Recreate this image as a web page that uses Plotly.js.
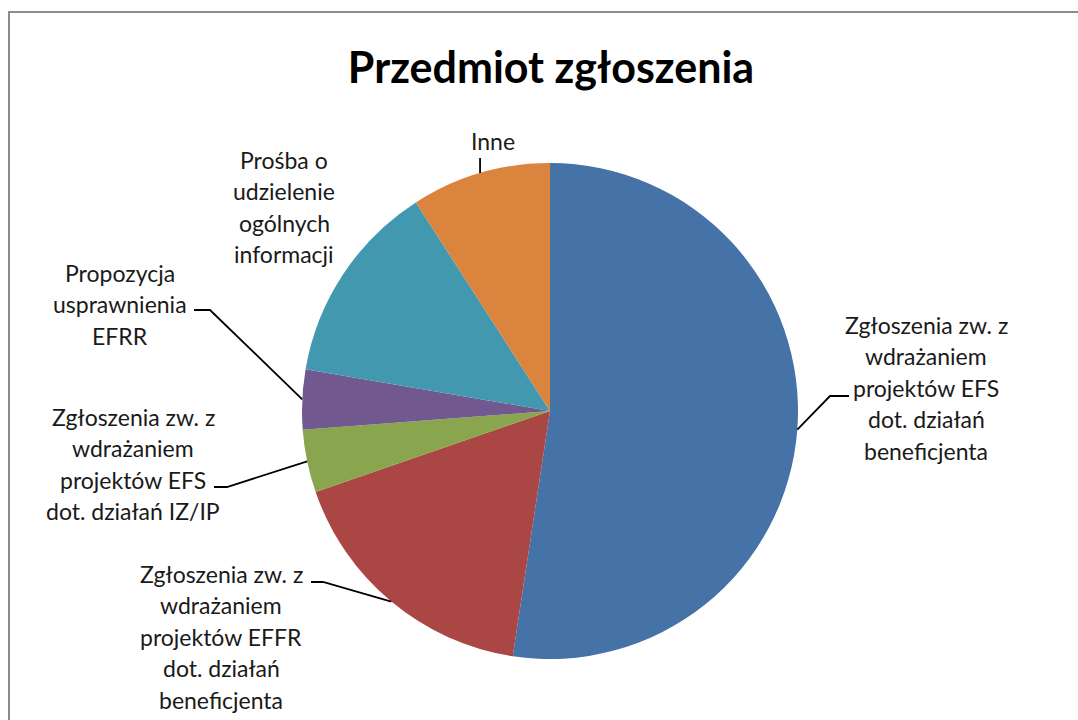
<!DOCTYPE html>
<html>
<head>
<meta charset="utf-8">
<script src="https://cdn.plot.ly/plotly-3.0.1.min.js"></script>
<style>
  html, body { margin: 0; padding: 0; background: #fff; }
  #chart { width: 1078px; height: 720px; }
</style>
</head>
<body>
<div id="chart"></div>
<script>
// slices, clockwise from 12 o'clock
var categories = [
  "Zgłoszenia zw. z wdrażaniem projektów EFS dot. działań beneficjenta",
  "Zgłoszenia zw. z wdrażaniem projektów EFFR dot. działań beneficjenta",
  "Zgłoszenia zw. z wdrażaniem projektów EFS dot. działań IZ/IP",
  "Propozycja usprawnienia EFRR",
  "Prośba o udzielenie ogólnych informacji",
  "Inne"
];
var shares = [52.4, 17.3, 4.1, 3.9, 13.2, 9.1];
var colors = ["#4572A7", "#AA4643", "#89A54E", "#71588F", "#4198AF", "#DB843D"];

// label lines as drawn in the picture
var labelLines = [
  ["Zgłoszenia zw. z", "wdrażaniem", "projektów EFS", "dot. działań", "beneficjenta"],
  ["Zgłoszenia zw. z", "wdrażaniem", "projektów EFFR", "dot. działań", "beneficjenta"],
  ["Zgłoszenia zw. z", "wdrażaniem", "projektów EFS", "dot. działań IZ/IP"],
  ["Propozycja", "usprawnienia", "EFRR"],
  ["Prośba o", "udzielenie", "ogólnych", "informacji"],
  ["Inne"]
];

var W = 1078, H = 720;
var cx = 550, cy = 411, R = 248;   // pie centre / radius in px
var lineGap = 31.4;

// label placement (px): centre x, first line y
var labelPos = [
  {x: 926, y: 325},
  {x: 221, y: 574},
  {x: 133, y: 417},
  {x: 120, y: 273},
  {x: 284, y: 160},
  {x: 493, y: 141}
];
// leader knee (px) and tail end x; null = no leader
var leaders = [
  {kx: 830, ky: 396, tx: 849},
  {kx: 323, ky: 582, tx: 311},
  {kx: 227, ky: 487, tx: 214},
  {kx: 210, ky: 310, tx: 194},
  null,
  {kx: "edge", ky: 158, tx: null}
];

function px(x) { return x / W; }
function py(y) { return 1 - y / H; }

var total = shares.reduce(function(a, b) { return a + b; }, 0);
var cum = 0;
var shapes = [];
var annotations = [];

shares.forEach(function(v, i) {
  var mid = (cum + v / 2) / total * 2 * Math.PI;
  cum += v;
  var ex = cx + R * Math.sin(mid);
  var ey = cy - R * Math.cos(mid);
  var L = leaders[i];
  if (L) {
    var kx = L.kx === "edge" ? ex : L.kx;
    var path = "M" + px(ex) + "," + py(ey) + " L" + px(kx) + "," + py(L.ky);
    if (L.tx !== null) path += " L" + px(L.tx) + "," + py(L.ky);
    shapes.push({
      type: "path", xref: "paper", yref: "paper", path: path,
      line: {color: "#000", width: 1.8}
    });
  }
  labelLines[i].forEach(function(t, j) {
    annotations.push({
      text: t, showarrow: false, xref: "paper", yref: "paper",
      x: px(labelPos[i].x), y: py(labelPos[i].y + j * lineGap),
      xanchor: "center", yanchor: "middle",
      font: {family: "Lato, 'Open Sans', sans-serif", size: 23, color: "#1a1a1a"}
    });
  });
});

// chart frame
shapes.push({
  type: "rect", xref: "paper", yref: "paper",
  x0: px(9), x1: 1.02, y0: -0.02, y1: py(12),
  line: {color: "#8c8c8c", width: 2}
});

var trace = {
  type: "pie",
  labels: categories,
  values: shares,
  sort: false,
  direction: "clockwise",
  rotation: 0,
  textinfo: "none",
  hoverinfo: "label+percent",
  marker: {colors: colors, line: {width: 0}},
  domain: {x: [px(cx - R), px(cx + R)], y: [py(cy + R), py(cy - R)]},
  showlegend: false
};

var layout = {
  width: W, height: H,
  margin: {l: 0, r: 0, t: 0, b: 0},
  paper_bgcolor: "#fff",
  title: {
    text: "<b>Przedmiot zgłoszenia</b>",
    x: px(551), xanchor: "center", y: py(68), yanchor: "middle",
    font: {family: "Lato, 'Open Sans', sans-serif", size: 43, color: "#000"}
  },
  shapes: shapes,
  annotations: annotations
};

Plotly.newPlot("chart", [trace], layout, {displayModeBar: false, staticPlot: true});
</script>
</body>
</html>
